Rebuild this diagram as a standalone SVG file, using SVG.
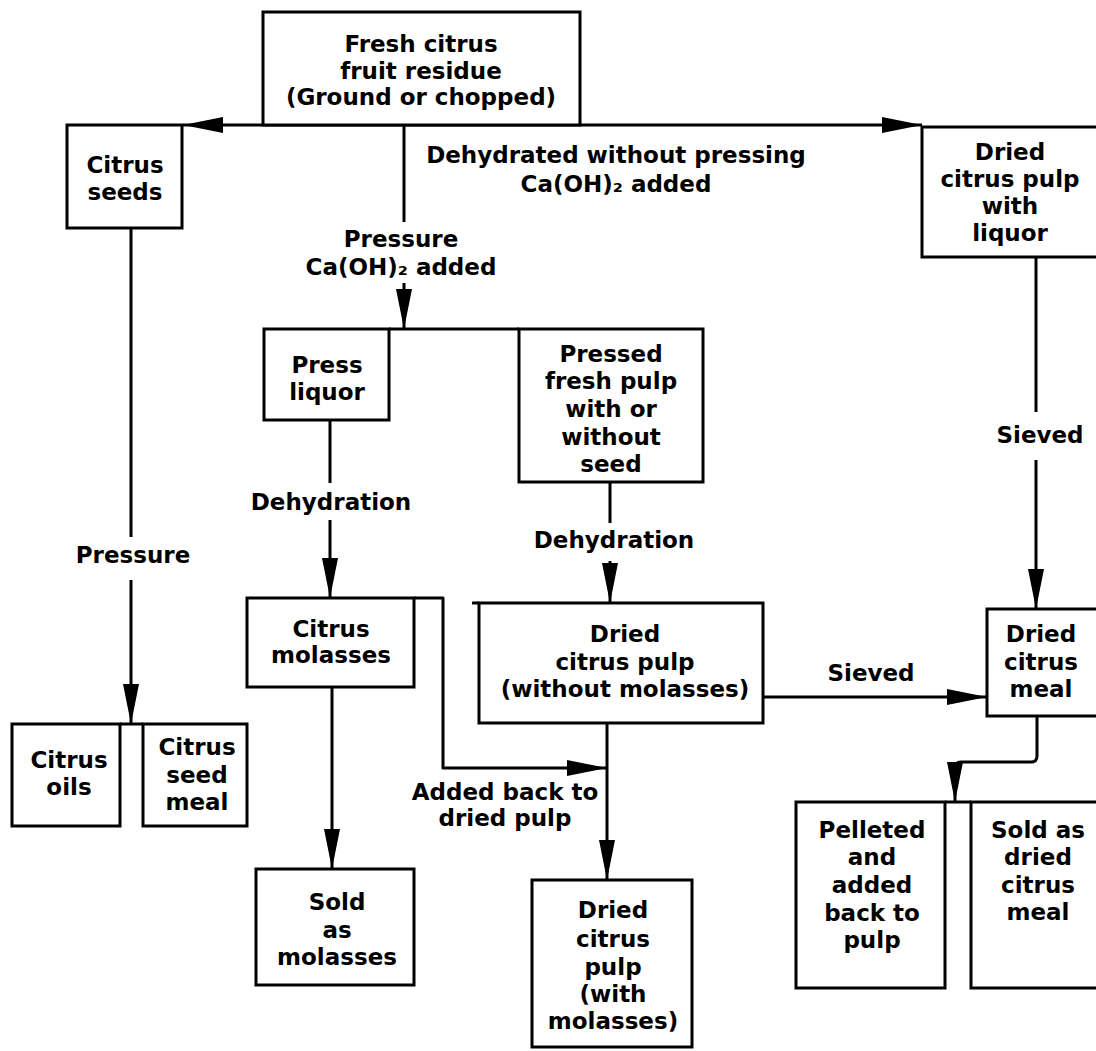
<svg xmlns="http://www.w3.org/2000/svg" width="1096" height="1051" viewBox="0 0 1096 1051">
<defs>
<marker id="ah" markerUnits="userSpaceOnUse" markerWidth="40" markerHeight="18" refX="40" refY="9" orient="auto">
<path d="M0,1 L40,9 L0,17 Z" fill="#000"/>
</marker>
<style>
.box{fill:#fff;stroke:#000;stroke-width:3}
.ln{fill:none;stroke:#000;stroke-width:3;stroke-linejoin:round}
.ar{fill:none;stroke:#000;stroke-width:3;stroke-linejoin:round;marker-end:url(#ah)}
text{font-family:"DejaVu Sans","Liberation Sans",sans-serif;font-weight:bold;font-size:23px;text-anchor:middle;fill:#000}
</style>
</defs>
<rect width="1096" height="1051" fill="#fff"/>
<g id="connectors">
<path class="ar" d="M404,125 H183"/>
<path class="ar" d="M404,125 H922"/>
<path class="ln" d="M404,125 V222"/>
<path class="ar" d="M404,283 V329"/>
<path class="ln" d="M389,329 H519"/>
<path class="ln" d="M131,228 V537"/>
<path class="ar" d="M131,580 V724"/>
<path class="ln" d="M120,724 H143"/>
<path class="ln" d="M330,420 V483"/>
<path class="ar" d="M330,520 V598"/>
<path class="ln" d="M610,482 V523"/>
<path class="ar" d="M610,561 V603"/>
<path class="ln" d="M472,603 H479"/>
<path class="ln" d="M1036,257 V412"/>
<path class="ar" d="M1036,460 V609"/>
<path class="ar" d="M332,687 V869"/>
<path class="ar" d="M414,598 H443 V768 H607"/>
<path class="ar" d="M607,723 V880"/>
<path class="ar" d="M763,697 H987"/>
<path class="ar" d="M1037,716 V756 Q1037,762 1031,762 H961 Q955,762 955,768 V802"/>
<path class="ln" d="M945,802 H971"/>
</g>
<g id="n-fresh"><rect class="box" x="263" y="12" width="317" height="113"/>
<text x="421" y="52">Fresh citrus</text><text x="421" y="79">fruit residue</text><text x="421" y="105">(Ground or chopped)</text></g>
<g id="n-seeds"><rect class="box" x="67" y="125" width="115" height="103"/>
<text x="125" y="173">Citrus</text><text x="125" y="200">seeds</text></g>
<g id="l-dehyd"><text x="616" y="163">Dehydrated without pressing</text><text x="616" y="192">Ca(OH)₂ added</text></g>
<g id="l-press"><text x="401" y="247">Pressure</text><text x="401" y="275">Ca(OH)₂ added</text></g>
<g id="n-pulpliquor"><rect class="box" x="922" y="127" width="190" height="130"/>
<text x="1010" y="160">Dried</text><text x="1010" y="187">citrus pulp</text><text x="1010" y="214">with</text><text x="1010" y="241">liquor</text></g>
<g id="n-pressliquor"><rect class="box" x="264" y="329" width="125" height="91"/>
<text x="327" y="373">Press</text><text x="327" y="400">liquor</text></g>
<g id="n-pressedpulp"><rect class="box" x="519" y="329" width="184" height="153"/>
<text x="611" y="362">Pressed</text><text x="611" y="389">fresh pulp</text><text x="611" y="417">with or</text><text x="611" y="445">without</text><text x="611" y="472">seed</text></g>
<g id="l-dehyd1"><text x="331" y="510">Dehydration</text></g>
<g id="l-dehyd2"><text x="614" y="548">Dehydration</text></g>
<g id="l-sieved1"><text x="1040" y="443">Sieved</text></g>
<g id="l-pressure"><text x="133" y="563">Pressure</text></g>
<g id="n-molasses"><rect class="box" x="247" y="598" width="167" height="89"/>
<text x="331" y="637">Citrus</text><text x="331" y="663">molasses</text></g>
<g id="n-driedpulp"><rect class="box" x="479" y="603" width="284" height="120"/>
<text x="625" y="642">Dried</text><text x="625" y="670">citrus pulp</text><text x="625" y="697">(without molasses)</text></g>
<g id="l-sieved2"><text x="871" y="681">Sieved</text></g>
<g id="n-meal"><rect class="box" x="987" y="609" width="125" height="107"/>
<text x="1041" y="642">Dried</text><text x="1041" y="670">citrus</text><text x="1041" y="697">meal</text></g>
<g id="n-oils"><rect class="box" x="12" y="724" width="108" height="102"/>
<text x="69" y="768">Citrus</text><text x="69" y="795">oils</text></g>
<g id="n-seedmeal"><rect class="box" x="143" y="724" width="104" height="102"/>
<text x="197" y="755">Citrus</text><text x="197" y="783">seed</text><text x="197" y="810">meal</text></g>
<g id="l-added"><text x="505" y="800">Added back to</text><text x="505" y="826">dried pulp</text></g>
<g id="n-soldmol"><rect class="box" x="256" y="869" width="158" height="116"/>
<text x="337" y="910">Sold</text><text x="337" y="938">as</text><text x="337" y="965">molasses</text></g>
<g id="n-withmol"><rect class="box" x="532" y="880" width="160" height="167"/>
<text x="613" y="918">Dried</text><text x="613" y="947">citrus</text><text x="613" y="975">pulp</text><text x="613" y="1002">(with</text><text x="613" y="1029">molasses)</text></g>
<g id="n-pelleted"><rect class="box" x="796" y="802" width="149" height="186"/>
<text x="872" y="838">Pelleted</text><text x="872" y="865">and</text><text x="872" y="893">added</text><text x="872" y="921">back to</text><text x="872" y="948">pulp</text></g>
<g id="n-soldmeal"><rect class="box" x="971" y="802" width="141" height="186"/>
<text x="1038" y="838">Sold as</text><text x="1038" y="865">dried</text><text x="1038" y="893">citrus</text><text x="1038" y="920">meal</text></g>
</svg>
